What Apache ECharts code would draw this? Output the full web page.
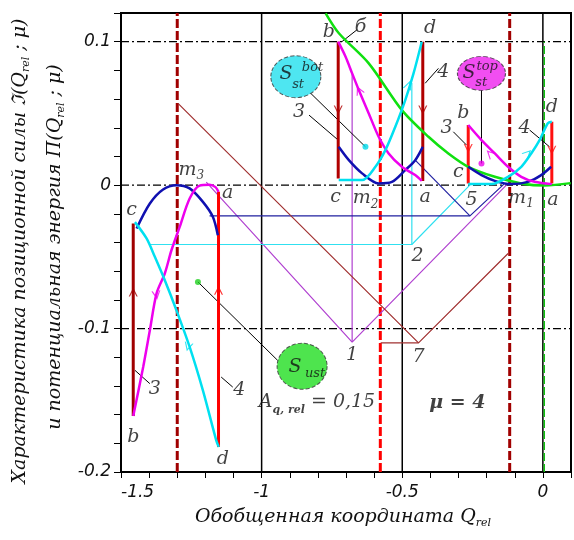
<!DOCTYPE html>
<html lang="ru">
<head>
<meta charset="UTF-8">
<title>Позиционная сила и потенциальная энергия</title>
<script src="https://cdn.jsdelivr.net/npm/echarts@6/dist/echarts.min.js"></script>
<style>html,body{margin:0;padding:0;background:#fff;}</style>
</head>
<body>
<div id="main" style="width:574px;height:540px;"></div>
<script>
    // axes
    const xMin = -1.5, xMax = 0.1, yMin = -0.2, yMax = 0.12;
    const blackX = [-1, -0.5, 0];
    const dashDotY = [-0.1, 0, 0.1];
    const redDash = [[-1.3, '#a00000'], [-0.578, '#ff0000'], [-0.118, '#a00000']];
    const greenDashX = 0.005;

    // left well (m3)
    const blueLeft = [[-1.4445,-0.0302],[-1.3974,-0.0128],[-1.3504,-0.0030],[-1.3030,0.0],[-1.2559,-0.0023],[-1.2088,-0.0117],[-1.1735,-0.0221],[-1.1558,-0.0349]];
    const magentaLeft = [[-1.4565,-0.161],[-1.4211,-0.1268],[-1.3974,-0.1012],[-1.3737,-0.0756],[-1.3443,-0.0616],[-1.3206,-0.0454],[-1.2913,-0.0291],[-1.2559,-0.0093],[-1.2205,-0.0003],[-1.1851,0.0003],[-1.1639,-0.0014],[-1.1533,-0.0047]];
    const cyanLeft = [[-1.4505,-0.0258],[-1.4091,-0.0372],[-1.3797,-0.0500],[-1.3443,-0.0663],[-1.3029,-0.0872],[-1.2559,-0.1128],[-1.2088,-0.1431],[-1.1614,-0.1779],[-1.1522,-0.1826]];
    const darkRedLeft = [[-1.4565,-0.0267],[-1.4565,-0.161]];
    const redLeft = [[-1.1533,-0.0047],[-1.1533,-0.1826]];

    // middle well (m2)
    const blueMid = [[-0.7259,0.0267],[-0.6898,0.0174],[-0.6428,0.0082],[-0.5837,0.0012],[-0.5367,0.0023],[-0.4893,0.0105],[-0.4539,0.0174],[-0.4270,0.0267]];
    const magentaMid = [[-0.7277,0.1],[-0.7015,0.0895],[-0.6782,0.0779],[-0.6545,0.0663],[-0.6191,0.05],[-0.5838,0.0337],[-0.5484,0.0221],[-0.5013,0.0128],[-0.4539,0.007],[-0.4306,0.003]];
    const cyanMid = [[-0.7259,0.0035],[-0.6428,0.0035],[-0.5954,0.0128],[-0.56,0.0244],[-0.5247,0.0407],[-0.4893,0.0593],[-0.4599,0.0779],[-0.4306,0.1]];
    const darkRedMidB = [[-0.7277,0.1],[-0.7277,0.0047]];
    const darkRedMidD = [[-0.427,0.1],[-0.427,0.0028]];

    // right well (m1)
    const blueRight = [[-0.2654,0.0128],[-0.2183,0.007],[-0.1709,0.003],[-0.1122,0.0007],[-0.0531,0.0023],[-0.006,0.007],[0.0294,0.0128]];
    const magentaRight = [[-0.2654,0.0419],[-0.2183,0.0314],[-0.1709,0.0221],[-0.1238,0.0128],[-0.0768,0.0058],[-0.0293,0.0023],[0.0318,0.0007]];
    const cyanRight = [[-0.2654,0.0007],[-0.1829,0.0007],[-0.1238,0.0058],[-0.0768,0.0128],[-0.0414,0.0221],[-0.0117,0.0314],[0.0177,0.0431],[0.0318,0.0442]];
    const redRightB = [[-0.2654,0.0419],[-0.2654,0.0012]];
    const redRightD = [[0.0318,0.0442],[0.0318,0.0012]];

    // green potential curve
    const greenCurve = [[-0.7723,0.1198],[-0.7253,0.1059],[-0.6191,0.0849],[-0.5013,0.0523],[-0.4068,0.0337],[-0.3361,0.0221],[-0.2653,0.0128],[-0.1709,0.0058],[-0.0768,0.0012],[0.006,-0.0003],[0.099,0.0014]];

    // numbered leaders
    const leader1 = [[[-1.1968,0.0021],[-0.6782,-0.1094],[-0.1238,0.0012]],[[-0.6782,-0.1094],[-0.6782,0.0779]]];
    const leader2 = [[[-1.3974,-0.0414],[-0.4659,-0.0414],[-0.2537,0.0012]],[[-0.4659,-0.0414],[-0.4659,0.0712]]];
    const leader5 = [[[-1.1851,-0.0214],[-0.2593,-0.0214],[-0.1355,0.0012]],[[-0.2593,-0.0214],[-0.4539,0.0174]]];
    const leader7 = [[[-1.2973,0.057],[-0.4422,-0.11],[-0.1238,-0.0477]],[[-0.5767,-0.11],[-0.4422,-0.11]]];
    const blackLeaders = [
        [[-0.8254,0.064],[-0.6308,0.0267]],
        [[-0.8314,0.0488],[-0.7277,0.0314]],
        [[-0.3714,0.0814],[-0.4185,0.071]],
        [[-0.2183,0.0663],[-0.2183,0.0151]],
        [[-0.3184,0.0372],[-0.2713,0.0279]],
        [[-0.0471,0.0384],[0.0237,0.0267]],
        [[-0.6616,0.1082],[-0.7146,0.1]],
        [[-1.2265,-0.0675],[-0.9435,-0.1221]],
        [[-1.3974,-0.1384],[-1.4505,-0.1291]],
        [[-1.1027,-0.1408],[-1.1438,-0.1338]]
    ];

    // arrows: x, y, rotation, colour
    const arrows = [
        [-1.4565,-0.0745,0,'#a00000'],[-1.1533,-0.0733,0,'#ff0000'],
        [-1.3737,-0.0768,188,'#ee00ee'],[-1.2619,-0.1128,165,'#00e0f0'],
        [-0.7277,0.0523,180,'#b00000'],[-0.427,0.0523,180,'#b00000'],
        [-0.6545,0.0663,25,'#ee00ee'],[-0.4776,0.0698,-20,'#00e0f0'],
        [-0.2654,0.0256,180,'#ff1010'],[0.0318,0.0244,180,'#ff1010'],
        [-0.1886,0.0221,45,'#ee00ee'],[-0.0531,0.0223,-45,'#00e0f0']
    ];
    const dots = [[-0.6308,0.0267,'#00d8e8'],[-0.2183,0.0151,'#ee00ee'],[-1.2265,-0.0675,'#20d020']];
    const bubbles = [[-0.8784,0.0756,50,42,'#22e0ee'],[-0.2183,0.0779,48,34,'#ee22ee'],[-0.8561,-0.1263,50,46,'#22dd22']];

    const labels = [
        ['c',-1.4621,-0.0174],['m{s|3}',-1.2499,0.0105],['a',-1.1204,-0.0058],['b',-1.4565,-0.1756],['d',-1.1381,-0.1907],['3',-1.3797,-0.1419],['4',-1.079,-0.1431],
        ['b',-0.7606,0.107],['б',-0.6485,0.1105],['d',-0.4008,0.1094],['3',-0.8668,0.0512],['4',-0.3538,0.0791],['c',-0.7369,-0.0082],['m{s|2}',-0.6308,-0.0093],['a',-0.4185,-0.0082],
        ['1',-0.6782,-0.1186],['2',-0.4458,-0.0495],['5',-0.2537,-0.0105],['7',-0.4422,-0.12],
        ['b',-0.283,0.05],['3',-0.3421,0.0396],['c',-0.3007,0.0093],['d',0.0318,0.0546],['4',-0.0648,0.0396],['m{s|1}',-0.078,-0.009],['a',0.0354,-0.0105],
        ['S',-0.9137,0.0773],['{u|bot}',-0.819,0.0816],['{u|st}',-0.8703,0.0698],
        ['S',-0.2625,0.0779],['{u|top}',-0.198,0.0826],['{u|st}',-0.2194,0.0715],
        ['S',-0.8809,-0.127],['{u|ust}',-0.8101,-0.1312],
        ['A{q|q, rel} = 0,15',-0.803,-0.1514],['{mu|μ = 4}',-0.3043,-0.1521]
    ];

    const serif = 'DejaVu Serif';

    function line(data, color, width, type, smooth, z) {
        return {
            type: 'line', data: data, symbol: 'none', smooth: smooth || false,
            silent: true, animation: false, z: z || 3,
            lineStyle: { color: color, width: width, type: type || 'solid' }
        };
    }

    let series = [];
    blackX.forEach(function (x) { series.push(line([[x, yMin], [x, yMax]], '#000', 1.5, 'solid', false, 1)); });
    dashDotY.forEach(function (y) { series.push(line([[xMin, y], [xMax, y]], '#000', 1.3, [8, 3, 2, 3], false, 1)); });
    redDash.forEach(function (r) { series.push(line([[r[0], yMin], [r[0], yMax]], r[1], 3, [9, 3], false, 2)); });
    series.push(line([[greenDashX, yMin], [greenDashX, 0.1]], '#10c010', 1.5, [8, 3], false, 2));

    [leader1, leader2, leader5, leader7].forEach(function (grp, i) {
        let col = ['#b040d0', '#30e0f0', '#2020a0', '#a03030'][i];
        grp.forEach(function (p) { series.push(line(p, col, 1.2, 'solid', false, 2)); });
    });
    blackLeaders.forEach(function (p) { series.push(line(p, '#000', 1, 'solid', false, 2)); });

    series.push(line(greenCurve, '#10e010', 2.5, 'solid', 0.3, 4));
    series.push(line(darkRedLeft, '#a00000', 3));
    series.push(line(redLeft, '#ff0000', 3));
    series.push(line(darkRedMidB, '#b00000', 3));
    series.push(line(darkRedMidD, '#b00000', 3));
    series.push(line(redRightB, '#ff1010', 3));
    series.push(line(redRightD, '#ff1010', 3));
    [blueLeft, blueMid, blueRight].forEach(function (d) { series.push(line(d, '#1010b0', 2.5, 'solid', 0.3, 5)); });
    [magentaLeft, magentaMid, magentaRight].forEach(function (d) { series.push(line(d, '#ee00ee', 2.5, 'solid', 0.3, 5)); });
    [cyanLeft, cyanMid, cyanRight].forEach(function (d) { series.push(line(d, '#00e0f0', 2.5, 'solid', 0.3, 5)); });

    series.push({
        type: 'scatter', silent: true, animation: false, z: 6,
        symbol: 'path://M0,10 L5,0 L10,10 L8.6,10 L5,3 L1.4,10 Z', symbolSize: [9, 9],
        data: arrows.map(function (a) { return { value: [a[0], a[1]], symbolRotate: a[2], itemStyle: { color: a[3] } }; })
    });
    series.push({
        type: 'scatter', silent: true, animation: false, z: 6, symbolSize: 6,
        data: dots.map(function (d) { return { value: [d[0], d[1]], itemStyle: { color: d[2] } }; })
    });
    series.push({
        type: 'scatter', silent: true, animation: false, z: 7,
        data: bubbles.map(function (b) {
            return { value: [b[0], b[1]], symbolSize: [b[2], b[3]],
                itemStyle: { color: b[4], borderColor: '#333', borderWidth: 1, borderType: 'dashed' } };
        })
    });
    series.push({
        type: 'scatter', silent: true, animation: false, z: 8, symbolSize: 0,
        data: labels.map(function (l) { return { name: l[0], value: [l[1], l[2]] }; }),
        label: {
            show: true, position: 'inside', formatter: function (p) { return p.name; },
            fontFamily: serif, fontStyle: 'italic', fontSize: 19, color: '#111',
            rich: {
                s: { fontFamily: serif, fontStyle: 'italic', fontSize: 12, color: '#111', verticalAlign: 'bottom', lineHeight: 24 },
                u: { fontFamily: serif, fontStyle: 'italic', fontSize: 13, color: '#111' },
                q: { fontFamily: serif, fontStyle: 'italic', fontWeight: 'bold', fontSize: 11, color: '#111', verticalAlign: 'bottom', lineHeight: 26 },
                mu: { fontFamily: serif, fontStyle: 'italic', fontWeight: 'bold', fontSize: 19, color: '#111' }
            }
        }
    });

    let chart = echarts.init(document.getElementById('main'));
    chart.setOption({
        animation: false,
        grid: { left: 121, right: 1, top: 13, bottom: 68, show: true, borderColor: '#000', borderWidth: 2 },
        xAxis: {
            type: 'value', min: xMin, max: xMax, interval: 0.1,
            splitLine: { show: false },
            axisLine: { onZero: false, lineStyle: { color: '#000', width: 2 } },
            axisTick: { length: 6, lineStyle: { color: '#000', width: 1 } },
            axisLabel: {
                margin: 12, color: '#111', fontFamily: 'DejaVu Sans', fontStyle: 'italic', fontSize: 17,
                alignMinLabel: 'left',
                formatter: function (v) {
                    let r = Math.round(v * 10) / 10;
                    return (Math.abs(r * 2 - Math.round(r * 2)) < 1e-6 && r <= 0) ? String(r) : '';
                }
            }
        },
        yAxis: {
            type: 'value', min: yMin, max: yMax, interval: 0.02,
            splitLine: { show: false },
            axisLine: { onZero: false, lineStyle: { color: '#000', width: 2 } },
            axisTick: { length: 7, lineStyle: { color: '#000', width: 1 } },
            axisLabel: {
                margin: 10, color: '#111', fontFamily: 'DejaVu Sans', fontStyle: 'italic', fontSize: 17,
                formatter: function (v) {
                    let r = Math.round(v * 100) / 100;
                    return (Math.abs(r * 10 - Math.round(r * 10)) < 1e-6 && r < 0.11) ? String(r) : '';
                }
            }
        },
        graphic: [
            {
                type: 'text', x: 20, y: 251, rotation: Math.PI / 2,
                style: {
                    text: 'Характеристика позиционной силы ℑ(Q{s|rel} ; μ)', align: 'center', verticalAlign: 'middle',
                    font: 'italic 19px "DejaVu Serif"', fill: '#111',
                    rich: { s: { font: 'italic 11px "DejaVu Serif"', verticalAlign: 'bottom', lineHeight: 24, fill: '#111' } }
                }
            },
            {
                type: 'text', x: 55, y: 247, rotation: Math.PI / 2,
                style: {
                    text: 'и потенциальная энергия П(Q{s|rel} ; μ)', align: 'center', verticalAlign: 'middle',
                    font: 'italic 19px "DejaVu Serif"', fill: '#111',
                    rich: { s: { font: 'italic 11px "DejaVu Serif"', verticalAlign: 'bottom', lineHeight: 24, fill: '#111' } }
                }
            },
            {
                type: 'text', x: 343, y: 517,
                style: {
                    text: 'Обобщенная координата Q{s|rel}', align: 'center', verticalAlign: 'middle',
                    font: 'italic 19px "DejaVu Serif"', fill: '#111',
                    rich: { s: { font: 'italic 11px "DejaVu Serif"', verticalAlign: 'bottom', lineHeight: 24, fill: '#111' } }
                }
            }
        ],
        series: series
    });
</script>
</body>
</html>
